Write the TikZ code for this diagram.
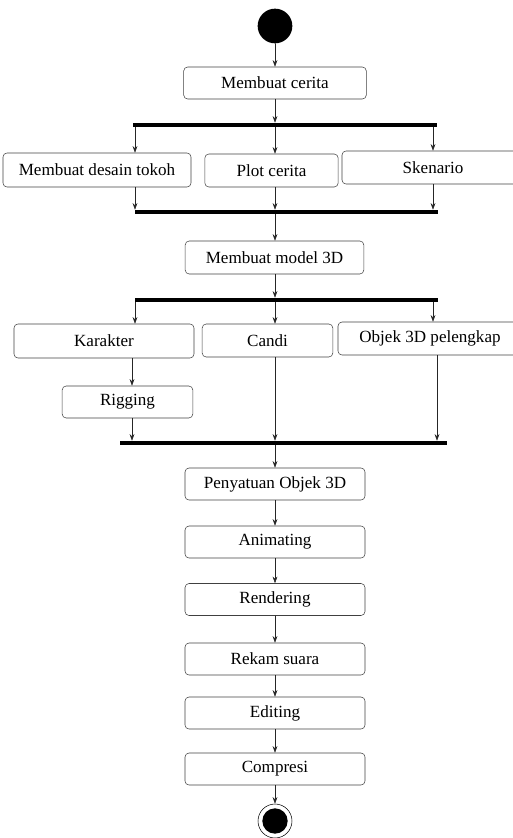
\documentclass[tikz,border=0pt]{standalone}
\usepackage{fontspec}
\setmainfont{Liberation Serif}
\usetikzlibrary{arrows.meta}

\begin{document}
\begin{tikzpicture}[x=0.75pt,y=-0.75pt,line cap=round,line join=round,>={Stealth[length=5pt,width=3.6pt]},
  act/.style={draw=black!75,rounded corners=3pt,minimum height=24pt,inner sep=0pt,font=\fontsize{12.8}{15}\selectfont},
  bar/.style={fill=black,inner sep=0pt,minimum height=3pt},
  flow/.style={->,black!85,thin}]
\useasboundingbox (0,0) rectangle (513,838);
% columns of the connectors
\coordinate (colL) at (135,0);
\coordinate (colK) at (132,0);
\coordinate (colM) at (275,0);
\coordinate (colR) at (433,0);
\coordinate (colS) at (437,0);
% start and first fork
\node[circle,fill=black,minimum size=26pt,inner sep=0pt] (start) at (275,26) {};
\node[act,minimum width=137pt] (cerita) at (275,83) {Membuat cerita};
\node[bar,minimum width=228pt] (fork1) at (285,125) {};
\node[act,minimum width=141pt,minimum height=25.5pt] (desain) at (97,170) {Membuat desain tokoh};
\node[act,minimum width=100pt,minimum height=24.75pt] (plot) at (271.5,170.5) {Plot cerita};
\node[act,minimum width=136.5pt,minimum height=24.75pt] (skenario) at (433,167.5) {Skenario};
\node[bar,minimum width=227pt] (join1) at (286.5,212) {};
% modelling
\node[act,minimum width=134pt,minimum height=24.75pt] (model) at (274.5,257.5) {Membuat model 3D};
\node[bar,minimum width=227pt] (fork2) at (286.5,300) {};
\node[act,minimum width=135pt,minimum height=25.5pt] (karakter) at (104,341) {Karakter};
\node[act,minimum width=98pt,minimum height=24.75pt] (candi) at (267.5,340.5) {Candi};
\node[act,minimum width=138pt,minimum height=24.75pt] (objek) at (430,338.5) {Objek 3D pelengkap};
\node[act,minimum width=98pt] (rigging) at (127.5,402) {Rigging};
\node[bar,minimum width=245pt] (join2) at (283.5,443) {};
% production
\node[act,minimum width=135pt] (satu) at (275,484) {Penyatuan Objek 3D};
\node[act,minimum width=135pt] (anim) at (275,542) {Animating};
\node[act,minimum width=135pt] (render) at (275,599.5) {Rendering};
\node[act,minimum width=135pt] (rekam) at (275,659) {Rekam suara};
\node[act,minimum width=135pt] (edit) at (275,713) {Editing};
\node[act,minimum width=135pt] (kompres) at (275,769) {Compresi};
\node[circle,draw,minimum size=25.5pt,inner sep=0pt] (end) at (275,821) {};
\fill (end) circle (9.5pt);

\draw[flow] (start) -- (cerita);
\draw[flow] (cerita) -- (colM |- fork1.north);
\draw[flow] (colL |- fork1.south) -- (colL |- desain.north);
\draw[flow] (colM |- fork1.south) -- (colM |- plot.north);
\draw[flow] (colR |- fork1.south) -- (colR |- skenario.north);
\draw[flow] (colL |- desain.south) -- (colL |- join1.north);
\draw[flow] (colM |- plot.south) -- (colM |- join1.north);
\draw[flow] (colR |- skenario.south) -- (colR |- join1.north);
\draw[flow] (colM |- join1.south) -- (colM |- model.north);
\draw[flow] (colM |- model.south) -- (colM |- fork2.north);
\draw[flow] (colL |- fork2.south) -- (colL |- karakter.north);
\draw[flow] (colM |- fork2.south) -- (colM |- candi.north);
\draw[flow] (colR |- fork2.south) -- (colR |- objek.north);
\draw[flow] (colK |- karakter.south) -- (colK |- rigging.north);
\draw[flow] (colK |- rigging.south) -- (colK |- join2.north);
\draw[flow] (colM |- candi.south) -- (colM |- join2.north);
\draw[flow] (colS |- objek.south) -- (colS |- join2.north);
\draw[flow] (colM |- join2.south) -- (satu);
\draw[flow] (satu) -- (anim);
\draw[flow] (anim) -- (render);
\draw[flow] (render) -- (rekam);
\draw[flow] (rekam) -- (edit);
\draw[flow] (edit) -- (kompres);
\draw[flow] (kompres) -- (end);
\end{tikzpicture}
\end{document}
